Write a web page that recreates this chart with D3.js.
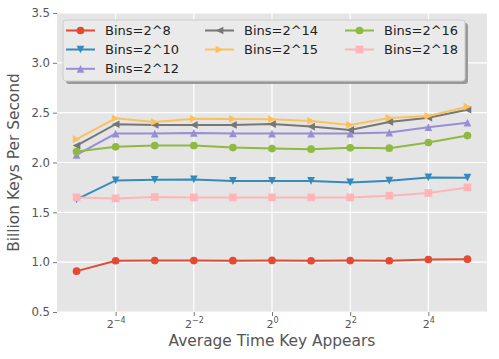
<!doctype html>
<html>
<head>
<meta charset="utf-8">
<title>Billion Keys Per Second</title>
<script src="https://d3js.org/d3.v7.min.js"></script>
<style>
  body { margin: 0; background: #fff; }
  text { font-family: "DejaVu Sans", sans-serif; }
</style>
</head>
<body>
<script>
// exponents of 2 on the x axis (Average Time Key Appears)
var exponents = [-5, -4, -3, -2, -1, 0, 1, 2, 3, 4, 5];
var tickExponents = [-4, -2, 0, 2, 4];
var yTicks = [0.5, 1.0, 1.5, 2.0, 2.5, 3.0, 3.5];

var seriesNames = ["Bins=2^8", "Bins=2^10", "Bins=2^12", "Bins=2^14", "Bins=2^15", "Bins=2^16", "Bins=2^18"];

var bins8  = [0.91, 1.014, 1.016, 1.016, 1.015, 1.017, 1.014, 1.016, 1.014, 1.027, 1.030];
var bins10 = [1.63, 1.820, 1.826, 1.830, 1.815, 1.815, 1.815, 1.800, 1.818, 1.850, 1.848];
var bins12 = [2.077, 2.290, 2.290, 2.297, 2.292, 2.290, 2.290, 2.290, 2.300, 2.354, 2.400];
var bins14 = [2.170, 2.384, 2.377, 2.377, 2.377, 2.386, 2.360, 2.327, 2.407, 2.450, 2.530];
var bins15 = [2.234, 2.444, 2.407, 2.440, 2.437, 2.434, 2.417, 2.377, 2.447, 2.467, 2.560];
var bins16 = [2.110, 2.157, 2.170, 2.170, 2.150, 2.140, 2.134, 2.147, 2.144, 2.200, 2.270];
var bins18 = [1.650, 1.640, 1.654, 1.650, 1.650, 1.650, 1.650, 1.650, 1.667, 1.694, 1.750];

var seriesValues = [bins8, bins10, bins12, bins14, bins15, bins16, bins18];
var colors = ["#E24A33", "#348ABD", "#988ED5", "#777777", "#FBC15E", "#8EBA42", "#FFB5B8"];
var markers = ["circle", "down", "up", "left", "right", "circle", "square"];

var width = 499, height = 359;
var margin = {top: 13, right: 12, bottom: 47, left: 57};
var plotW = width - margin.left - margin.right,
    plotH = height - margin.top - margin.bottom;

var svg = d3.select("body").append("svg")
    .attr("width", width)
    .attr("height", height);

var x = d3.scaleLog().base(2)
    .domain([Math.pow(2, -5.5), Math.pow(2, 5.5)])
    .range([0, plotW]);
var y = d3.scaleLinear().domain([0.5, 3.5]).range([plotH, 0]);

var plot = svg.append("g")
    .attr("transform", "translate(" + margin.left + "," + margin.top + ")");

plot.append("rect")
    .attr("width", plotW).attr("height", plotH)
    .attr("fill", "#E5E5E5");

// grid
plot.selectAll(".gx").data(tickExponents).enter().append("line")
    .attr("x1", d => x(Math.pow(2, d))).attr("x2", d => x(Math.pow(2, d)))
    .attr("y1", 0).attr("y2", plotH)
    .attr("stroke", "#fff").attr("stroke-width", 1.2);
plot.selectAll(".gy").data(yTicks).enter().append("line")
    .attr("x1", 0).attr("x2", plotW)
    .attr("y1", d => y(d)).attr("y2", d => y(d))
    .attr("stroke", "#fff").attr("stroke-width", 1.2);

// axes
var xAxis = d3.axisBottom(x)
    .tickValues(tickExponents.map(e => Math.pow(2, e)))
    .tickSize(4).tickPadding(3).tickFormat(() => "");
var gx = plot.append("g").attr("transform", "translate(0," + plotH + ")").call(xAxis);
gx.select(".domain").remove();
gx.selectAll(".tick line").attr("stroke", "#555").attr("stroke-width", 0.8);
gx.selectAll(".tick").each(function(d) {
  var e = Math.round(Math.log2(d));
  var t = d3.select(this).append("text")
      .attr("fill", "#555")
      .attr("y", 16)
      .attr("text-anchor", "middle")
      .style("font-size", "11px");
  t.append("tspan").text("2");
  t.append("tspan").attr("dy", -5).style("font-size", "8px")
      .text(e < 0 ? "\u2212" + (-e) : String(e));
});

var yAxis = d3.axisLeft(y).tickValues(yTicks).tickSize(4).tickPadding(3)
    .tickFormat(d3.format(".1f"));
var gy = plot.append("g").call(yAxis);
gy.select(".domain").remove();
gy.selectAll(".tick line").attr("stroke", "#555").attr("stroke-width", 0.8);
gy.selectAll(".tick text").attr("fill", "#555")
    .style("font-size", "11.7px").style("font-family", "DejaVu Sans");

// axis labels
svg.append("text")
    .attr("x", margin.left + plotW / 2).attr("y", 346)
    .attr("text-anchor", "middle")
    .attr("fill", "#555")
    .style("font-size", "15.4px")
    .text("Average Time Key Appears");
svg.append("text")
    .attr("transform", "translate(19," + (margin.top + plotH / 2) + ") rotate(-90)")
    .attr("text-anchor", "middle")
    .attr("fill", "#555")
    .style("font-size", "15.4px")
    .text("Billion Keys Per Second");

// marker shapes
var ms = 7.7;
function markerPath(kind) {
  var h = ms / 2;
  if (kind === "up") return "M0," + (-h) + "L" + (-h) + "," + h + "L" + h + "," + h + "Z";
  if (kind === "down") return "M0," + h + "L" + (-h) + "," + (-h) + "L" + h + "," + (-h) + "Z";
  if (kind === "left") return "M" + (-h) + ",0L" + h + "," + (-h) + "L" + h + "," + h + "Z";
  if (kind === "right") return "M" + h + ",0L" + (-h) + "," + (-h) + "L" + (-h) + "," + h + "Z";
  if (kind === "square") return "M" + (-h) + "," + (-h) + "h" + ms + "v" + ms + "h" + (-ms) + "Z";
  return d3.symbol(d3.symbolCircle, Math.PI * h * h)();
}

var line = d3.line()
    .x((d, i) => x(Math.pow(2, exponents[i])))
    .y(d => y(d));

seriesValues.forEach(function(vals, s) {
  var g = plot.append("g");
  g.append("path").datum(vals)
      .attr("d", line)
      .attr("fill", "none")
      .attr("stroke", colors[s])
      .attr("stroke-width", 2);
  g.selectAll("path.m").data(vals).enter().append("path")
      .attr("class", "m")
      .attr("transform", (d, i) => "translate(" + x(Math.pow(2, exponents[i])) + "," + y(d) + ")")
      .attr("d", markerPath(markers[s]))
      .attr("fill", colors[s]);
});

// legend
var legend = svg.append("g").attr("transform", "translate(63,20)");
var lw = 402, lh = 61;
legend.append("rect")
    .attr("x", 3).attr("y", 3).attr("width", lw).attr("height", lh)
    .attr("rx", 3).attr("fill", "#999");
legend.append("rect")
    .attr("width", lw).attr("height", lh)
    .attr("rx", 3).attr("fill", "#EAEAEA")
    .attr("stroke", "#CCCCCC").attr("stroke-width", 1);

var colX = [3, 142, 282];
var rowY = [10.5, 29.5, 48.8];
var colOf = [0, 0, 0, 1, 1, 2, 2], rowOf = [0, 1, 2, 0, 1, 0, 1];
seriesNames.forEach(function(name, s) {
  var gx0 = colX[colOf[s]], gy0 = rowY[rowOf[s]];
  var item = legend.append("g").attr("transform", "translate(" + gx0 + "," + gy0 + ")");
  item.append("line").attr("x1", 0).attr("x2", 29)
      .attr("stroke", colors[s]).attr("stroke-width", 2);
  item.append("path").attr("transform", "translate(14.5,0)")
      .attr("d", markerPath(markers[s])).attr("fill", colors[s]);
  item.append("text").attr("x", 39).attr("y", 4.6)
      .attr("fill", "#222")
      .style("font-size", "13px")
      .text(name);
});
</script>
</body>
</html>
